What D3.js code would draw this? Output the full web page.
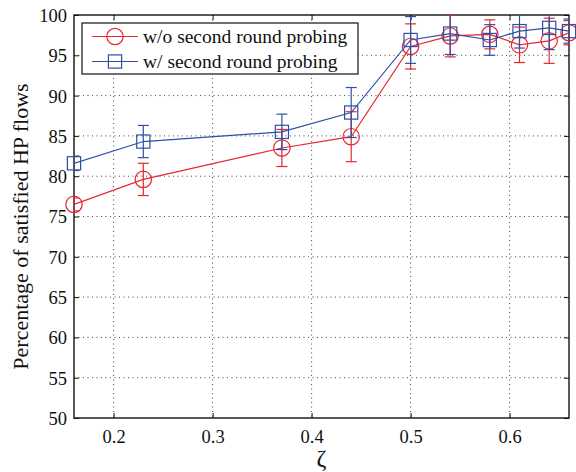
<!DOCTYPE html>
<html>
<head>
<meta charset="utf-8">
<script src="https://cdn.jsdelivr.net/npm/d3@7/dist/d3.min.js"></script>
<style>
  html, body { margin: 0; padding: 0; background: #fff; }
  svg { display: block; }
  text { font-family: "Liberation Serif", "Times New Roman", serif; fill: #111; }
</style>
</head>
<body>
<script>
// ---- data ----
const zeta = [0.16, 0.23, 0.37, 0.44, 0.50, 0.54, 0.58, 0.61, 0.64, 0.66];
const woValues = [76.5, 79.6, 83.5, 84.9, 96.1, 97.4, 97.6, 96.3, 96.8, 97.8];
const woErrors = [0.8, 2.0, 2.3, 3.1, 2.8, 2.6, 1.8, 2.2, 2.8, 1.5];
const wValues = [81.6, 84.3, 85.5, 87.9, 96.9, 97.7, 96.9, 98.0, 98.4, 98.0];
const wErrors = [0.9, 2.0, 2.2, 3.1, 2.9, 2.6, 1.9, 2.1, 2.7, 1.5];
const xTicks = [0.2, 0.3, 0.4, 0.5, 0.6];
const yTicks = [50, 55, 60, 65, 70, 75, 80, 85, 90, 95, 100];
const seriesNames = ["w/o second round probing", "w/ second round probing"];
const xLabel = "ζ";
const yLabel = "Percentage of satisfied HP flows";

// ---- layout ----
const W = 576, H = 472;
const L = 74, R = 569, T = 15, B = 418;
const RED = "#e8262e", BLUE = "#2f4fa6";

const svg = d3.select("body").append("svg").attr("width", W).attr("height", H);

const x = d3.scaleLinear().domain([0.16, 0.66]).range([L, R]);
const y = d3.scaleLinear().domain([50, 100]).range([B, T]);

svg.append("defs").append("clipPath").attr("id", "clip")
  .append("rect").attr("x", L).attr("y", T).attr("width", R - L).attr("height", B - T);

// grid
const grid = svg.append("g");
grid.selectAll(".gx").data(xTicks).enter().append("line")
  .attr("x1", d => x(d)).attr("x2", d => x(d)).attr("y1", T).attr("y2", B)
  .attr("stroke", "#444").attr("stroke-width", 1).attr("stroke-dasharray", "1,3.5");
grid.selectAll(".gy").data(yTicks.filter(d => d > 50 && d < 100)).enter().append("line")
  .attr("y1", d => y(d)).attr("y2", d => y(d)).attr("x1", L).attr("x2", R)
  .attr("stroke", "#444").attr("stroke-width", 1).attr("stroke-dasharray", "1,3.5");

// axes (ticks inward, both sides)
const tl = 5;
const axB = svg.append("g").attr("transform", `translate(0,${B})`)
  .call(d3.axisBottom(x).tickValues(xTicks).tickSizeInner(-tl).tickSizeOuter(0).tickPadding(12).tickFormat(d3.format(".1f")));
const axT = svg.append("g").attr("transform", `translate(0,${T})`)
  .call(d3.axisTop(x).tickValues(xTicks).tickSizeInner(-tl).tickSizeOuter(0).tickFormat(""));
const axL = svg.append("g").attr("transform", `translate(${L},0)`)
  .call(d3.axisLeft(y).tickValues(yTicks).tickSizeInner(-tl).tickSizeOuter(0).tickPadding(7));
const axR = svg.append("g").attr("transform", `translate(${R},0)`)
  .call(d3.axisRight(y).tickValues(yTicks).tickSizeInner(-tl).tickSizeOuter(0).tickFormat(""));
[axB, axT, axL, axR].forEach(a => {
  a.select(".domain").remove();
  a.selectAll(".tick line").attr("stroke", "#111").attr("stroke-width", 1);
  a.selectAll("text").style("font-family", "'Liberation Serif', serif").style("font-size", "18.5px").attr("fill", "#111");
});
axL.selectAll("text").attr("dy", "0.35em");

// box
svg.append("rect").attr("x", L).attr("y", T).attr("width", R - L).attr("height", B - T)
  .attr("fill", "none").attr("stroke", "#111").attr("stroke-width", 1.4);

// series
function drawSeries(vals, errs, color, marker) {
  const g = svg.append("g");
  const pts = zeta.map((z, i) => ({ x: z, v: vals[i], e: errs[i] }));
  const eg = g.append("g").attr("clip-path", "url(#clip)");
  const cap = 5.5;
  pts.forEach(p => {
    eg.append("line").attr("x1", x(p.x)).attr("x2", x(p.x))
      .attr("y1", y(p.v - p.e)).attr("y2", y(p.v + p.e))
      .attr("stroke", color).attr("stroke-width", 1.2);
    [p.v - p.e, p.v + p.e].forEach(c => {
      eg.append("line").attr("x1", x(p.x) - cap).attr("x2", x(p.x) + cap)
        .attr("y1", y(c)).attr("y2", y(c)).attr("stroke", color).attr("stroke-width", 1.2);
    });
  });
  g.append("path").datum(pts).attr("clip-path", "url(#clip)")
    .attr("d", d3.line().x(d => x(d.x)).y(d => y(d.v)))
    .attr("fill", "none").attr("stroke", color).attr("stroke-width", 1.2);
  pts.forEach(p => drawMarker(g, x(p.x), y(p.v), color, marker));
}
function drawMarker(g, cx, cy, color, marker) {
  if (marker === "circle") {
    g.append("circle").attr("cx", cx).attr("cy", cy).attr("r", 8.2)
      .attr("fill", "none").attr("stroke", color).attr("stroke-width", 1.2);
  } else {
    g.append("rect").attr("x", cx - 6.6).attr("y", cy - 6.6).attr("width", 13.2).attr("height", 13.2)
      .attr("fill", "none").attr("stroke", color).attr("stroke-width", 1.2);
  }
}
drawSeries(woValues, woErrors, RED, "circle");
drawSeries(wValues, wErrors, BLUE, "square");

// legend
const lg = svg.append("g");
lg.append("rect").attr("x", 82).attr("y", 23).attr("width", 276).attr("height", 51)
  .attr("fill", "#fff").attr("stroke", "#111").attr("stroke-width", 1.2);
const rows = [{ name: seriesNames[0], color: RED, m: "circle", yy: 36.5 },
              { name: seriesNames[1], color: BLUE, m: "square", yy: 61.5 }];
rows.forEach(r => {
  lg.append("line").attr("x1", 92).attr("x2", 138).attr("y1", r.yy).attr("y2", r.yy)
    .attr("stroke", r.color).attr("stroke-width", 1.2);
  drawMarker(lg, 115, r.yy, r.color, r.m);
  lg.append("text").attr("x", 143).attr("y", r.yy).attr("dy", "0.33em")
    .style("font-size", "19.5px").text(r.name);
});

// axis labels
svg.append("text").attr("x", (L + R) / 2).attr("y", 466).attr("text-anchor", "middle")
  .style("font-size", "24px").text(xLabel);
svg.append("text").attr("transform", `translate(28,${(T + B) / 2 + 10}) rotate(-90)`)
  .attr("text-anchor", "middle").style("font-size", "22px").text(yLabel);
</script>
</body>
</html>
